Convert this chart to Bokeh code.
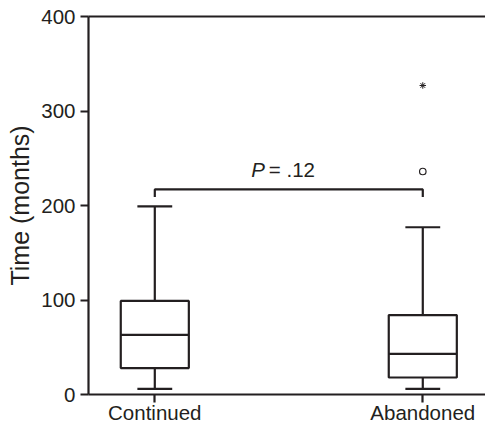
from bokeh.plotting import figure
from bokeh.models import Range1d, FixedTicker, LinearAxis
from bokeh.core.properties import value
from bokeh.embed import file_html
from bokeh.resources import INLINE

# ---- data ----
categories = ["Continued", "Abandoned"]
whisker_low = [6, 6]
q1 = [28, 18]
median = [63, 43]
q3 = [99, 84]
whisker_high = [199, 177]
outlier_circle_group = ["Abandoned"]
outlier_circle_value = [236]
outlier_star_group = ["Abandoned"]
outlier_star_value = [327]
y_ticks = [0, 100, 200, 300, 400]
bracket_groups = ["Continued", "Abandoned"]
bracket_y = 217
bracket_tip = 209
p_text_italic = "P"
p_text_rest = "= .12"

# ---- styling ----
INK = "#231f20"
FONT = "Liberation Sans"
LW = 2.2
BOX_W = 0.254
CAP_W = 0.13
FS = "20.5px"

pos = {c: i + 1 for i, c in enumerate(categories)}
xs = [pos[c] for c in categories]

p = figure(width=485, height=426, output_backend="svg", toolbar_location=None,
           x_range=Range1d(0.7526, 2.234), y_range=Range1d(0, 400),
           min_border_left=88, min_border_right=0, min_border_top=16, min_border_bottom=32)
p.background_fill_color = "white"
p.border_fill_color = "white"
p.outline_line_color = None
p.grid.visible = False

# axes
p.yaxis.ticker = FixedTicker(ticks=y_ticks)
p.yaxis.minor_tick_line_color = None
p.yaxis.major_tick_in = 0
p.yaxis.major_tick_out = 8
p.yaxis.axis_line_width = LW
p.yaxis.major_tick_line_width = LW
p.yaxis.axis_line_color = INK
p.yaxis.major_tick_line_color = INK
p.yaxis.major_label_text_font = FONT
p.yaxis.major_label_text_font_size = FS
p.yaxis.major_label_text_color = INK
p.yaxis.major_label_standoff = 5
p.yaxis.axis_label = "Time (months)"
p.yaxis.axis_label_text_font = FONT
p.yaxis.axis_label_text_font_size = "25px"
p.yaxis.axis_label_text_font_style = "normal"
p.yaxis.axis_label_text_color = INK
p.yaxis.axis_label_standoff = 4

p.xaxis.ticker = FixedTicker(ticks=xs)
p.xaxis.major_label_overrides = {pos[c]: c for c in categories}
p.xaxis.minor_tick_line_color = None
p.xaxis.major_tick_in = 0
p.xaxis.major_tick_out = 8
p.xaxis.axis_line_width = LW
p.xaxis.major_tick_line_width = LW
p.xaxis.axis_line_color = INK
p.xaxis.major_tick_line_color = INK
p.xaxis.major_label_text_font = FONT
p.xaxis.major_label_text_font_size = FS
p.xaxis.major_label_text_color = INK
p.xaxis.major_label_standoff = -2

# top frame line (an unlabelled axis)
top_axis = LinearAxis(ticker=FixedTicker(ticks=[]), axis_line_color=INK, axis_line_width=LW,
                      major_tick_line_color=None, minor_tick_line_color=None,
                      major_tick_out=0, major_tick_in=0, major_label_standoff=0)
p.add_layout(top_axis, "above")

# whiskers
p.segment(x0=xs, y0=q3, x1=xs, y1=whisker_high, line_color=INK, line_width=LW)
p.segment(x0=xs, y0=whisker_low, x1=xs, y1=q1, line_color=INK, line_width=LW)
# caps
p.segment(x0=[x - CAP_W / 2 for x in xs], y0=whisker_high,
          x1=[x + CAP_W / 2 for x in xs], y1=whisker_high, line_color=INK, line_width=LW)
p.segment(x0=[x - CAP_W / 2 for x in xs], y0=whisker_low,
          x1=[x + CAP_W / 2 for x in xs], y1=whisker_low, line_color=INK, line_width=LW)
# boxes
p.vbar(x=xs, bottom=q1, top=q3, width=BOX_W, fill_color="white",
       line_color=INK, line_width=LW)
# medians
p.segment(x0=[x - BOX_W / 2 for x in xs], y0=median,
          x1=[x + BOX_W / 2 for x in xs], y1=median, line_color=INK, line_width=LW)

# outliers
p.scatter(x=[pos[g] for g in outlier_circle_group], y=outlier_circle_value,
          marker="circle", size=6.5, fill_color="white", line_color=INK, line_width=1.2)
p.scatter(x=[pos[g] for g in outlier_star_group], y=outlier_star_value,
          marker="asterisk", size=6.5, line_color=INK, line_width=1)

# significance bracket
bx = [pos[g] for g in bracket_groups]
p.line(x=[bx[0], bx[0], bx[1], bx[1]], y=[bracket_tip, bracket_y, bracket_y, bracket_tip],
       line_color=INK, line_width=LW)
mid = (bx[0] + bx[1]) / 2
p.text(x=[mid], y=[bracket_y], text=[p_text_italic], x_offset=-37.5, y_offset=-20,
       text_font=value(FONT), text_font_size=FS, text_font_style="italic",
       text_color=INK, text_align="left", text_baseline="alphabetic")
p.text(x=[mid], y=[bracket_y], text=[p_text_rest], x_offset=-20, y_offset=-20,
       text_font=value(FONT), text_font_size=FS,
       text_color=INK, text_align="left", text_baseline="alphabetic")

open("out.html", "w").write(file_html(p, INLINE))
